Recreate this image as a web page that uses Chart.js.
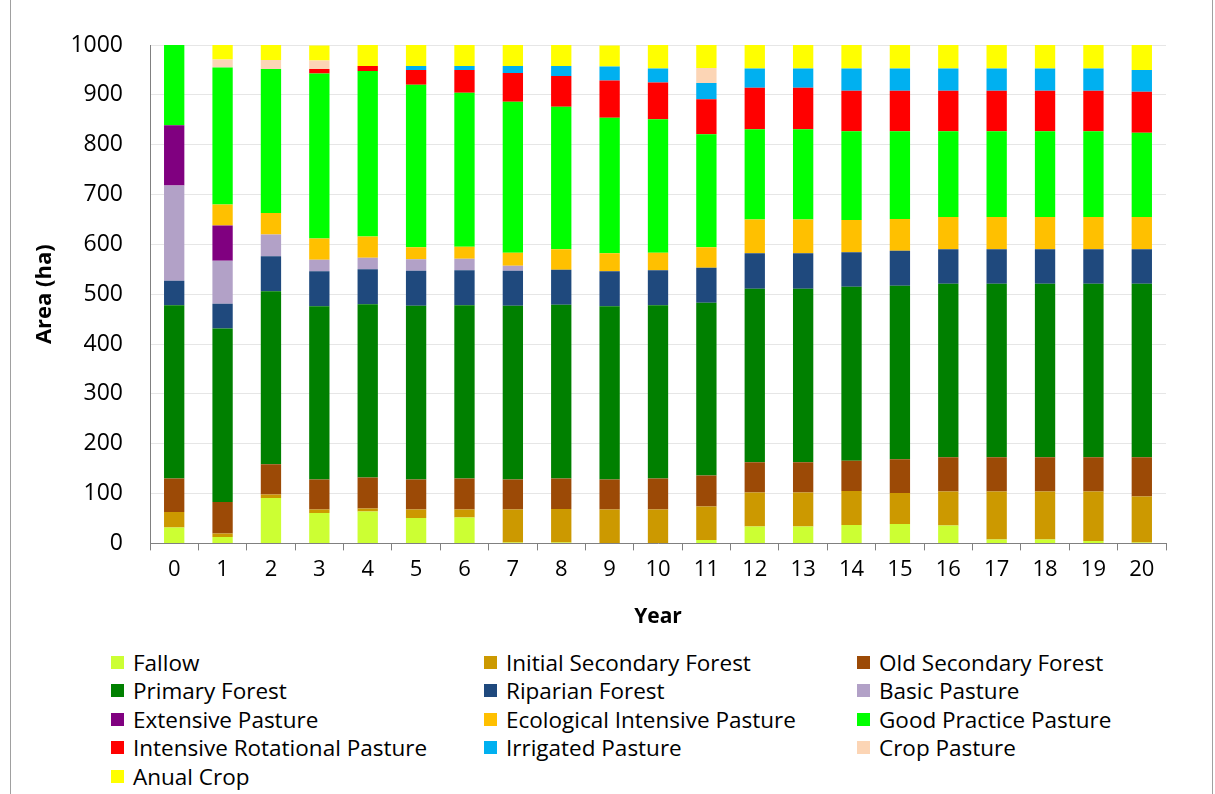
<!DOCTYPE html>
<html>
<head>
<meta charset="utf-8">
<script src="https://cdn.jsdelivr.net/npm/chart.js@4.4.0/dist/chart.umd.min.js"></script>
<style>
  body { margin: 0; background: #fff; font-family: "Open Sans", sans-serif; }
  #wrap { position: relative; width: 1203px; height: 794px; margin-left: 10px; border-left: 1px solid #a0a0a0; border-right: 1px solid #a0a0a0; box-sizing: border-box; }
  #chartBox { position: absolute; left: 0; top: 0; width: 1201px; height: 634px; }
  #legend { position: absolute; left: 100px; top: 648px; display: grid; grid-template-columns: 373px 373px 373px; }
  .item { display: flex; align-items: center; height: 28.5px; font-size: 22.5px; color: #000; white-space: nowrap; }
  .box { width: 13px; height: 13px; margin-right: 9px; }
</style>
</head>
<body>
<div id="wrap">
  <div id="chartBox"><canvas id="myChart"></canvas></div>
  <div id="legend"></div>
</div>
<script>
var years = ["0","1","2","3","4","5","6","7","8","9","10","11","12","13","14","15","16","17","18","19","20"];

var fallow        = [32, 13, 91, 61, 64, 51, 52, 2, 2, 1, 1, 7, 34, 34, 37, 39, 36, 8, 8, 5, 2];
var initSecondary = [31, 7, 7, 7, 6, 17, 16, 66, 67, 67, 67, 67, 68, 68, 68, 62, 68, 96, 96, 99, 92];
var oldSecondary  = [67, 63, 61, 60, 62, 60, 62, 60, 61, 60, 62, 62, 61, 61, 61, 68, 69, 69, 69, 69, 79];
var primary       = [348, 348, 347, 348, 348, 349, 348, 349, 349, 348, 348, 347, 348, 348, 349, 348, 348, 348, 348, 348, 348];
var riparian      = [49, 50, 70, 70, 70, 70, 70, 70, 70, 70, 70, 70, 71, 71, 69, 70, 69, 69, 69, 69, 69];
var basic         = [191, 86, 44, 23, 23, 23, 23, 10, 0, 0, 0, 0, 0, 0, 0, 0, 0, 0, 0, 0, 0];
var extensive     = [121, 71, 0, 0, 0, 0, 0, 0, 0, 0, 0, 0, 0, 0, 0, 0, 0, 0, 0, 0, 0];
var ecoIntensive  = [0, 42, 43, 43, 43, 24, 24, 26, 41, 36, 35, 41, 68, 68, 65, 64, 65, 65, 65, 65, 65];
var goodPractice  = [161, 275, 289, 331, 332, 326, 309, 303, 286, 272, 268, 227, 181, 181, 178, 176, 172, 172, 172, 172, 169];
var intRotational = [0, 0, 0, 9, 10, 30, 46, 58, 62, 75, 74, 70, 83, 83, 81, 81, 81, 81, 81, 81, 82];
var irrigated     = [0, 0, 0, 0, 0, 8, 8, 14, 20, 28, 28, 33, 39, 39, 45, 45, 45, 45, 45, 45, 44];
var cropPasture   = [0, 16, 18, 17, 0, 0, 0, 0, 0, 0, 0, 30, 0, 0, 0, 0, 0, 0, 0, 0, 0];
var anualCrop     = [0, 30, 30, 30, 42, 42, 42, 42, 42, 42, 47, 46, 47, 47, 47, 47, 47, 47, 47, 47, 50];

var yTicks = [0, 100, 200, 300, 400, 500, 600, 700, 800, 900, 1000];

var series = [
  ["Fallow", fallow, "#ccff33"],
  ["Initial Secondary Forest", initSecondary, "#cc9900"],
  ["Old Secondary Forest", oldSecondary, "#9c4a06"],
  ["Primary Forest", primary, "#008000"],
  ["Riparian Forest", riparian, "#1f497d"],
  ["Basic Pasture", basic, "#b2a1c7"],
  ["Extensive Pasture", extensive, "#800080"],
  ["Ecological Intensive Pasture", ecoIntensive, "#ffc000"],
  ["Good Practice Pasture", goodPractice, "#00ff00"],
  ["Intensive Rotational Pasture", intRotational, "#ff0000"],
  ["Irrigated Pasture", irrigated, "#00b0f0"],
  ["Crop Pasture", cropPasture, "#fcd5b5"],
  ["Anual Crop", anualCrop, "#ffff00"]
];

var datasets = series.map(function (s) {
  return { label: s[0], data: s[1], backgroundColor: s[2], borderWidth: 0,
           barPercentage: 0.42, categoryPercentage: 1.0 };
});

var ctx = document.getElementById('myChart').getContext('2d');
var chart = new Chart(ctx, {
  type: 'bar',
  data: { labels: years, datasets: datasets },
  options: {
    responsive: true,
    maintainAspectRatio: false,
    animation: false,
    layout: { padding: { left: 21, right: 46, top: 45, bottom: 0 } },
    plugins: { legend: { display: false }, tooltip: { enabled: false } },
    scales: {
      x: {
        stacked: true,
        grid: { display: true, drawOnChartArea: false, color: '#808080', tickLength: 7 },
        border: { color: '#808080' },
        ticks: { color: '#000', font: { family: 'Open Sans', size: 22 }, padding: 6, maxRotation: 0 },
        title: { display: true, text: 'Year', color: '#000', font: { family: 'Open Sans', size: 21, weight: 'bold' }, padding: { top: 16 } }
      },
      y: {
        stacked: true,
        min: 0, max: 1000,
        afterBuildTicks: function (axis) { axis.ticks = yTicks.map(function (v) { return { value: v }; }); },
        afterFit: function (axis) { axis.width = 118; },
        grid: { color: '#e6e6e6', drawTicks: false },
        border: { color: '#808080' },
        ticks: { color: '#000', font: { family: 'Open Sans', size: 23 }, padding: 27,
                 callback: function (v) { return String(v); } },
        title: { display: true, text: 'Area (ha)', color: '#000', font: { family: 'Open Sans', size: 22, weight: 'bold' }, padding: { top: 0, bottom: 10 } }
      }
    }
  }
});

// legend in 3 columns, same order as the source
var legend = document.getElementById('legend');
series.forEach(function (s) {
  var div = document.createElement('div');
  div.className = 'item';
  div.innerHTML = '<span class="box" style="background:' + s[2] + '"></span>' + s[0];
  legend.appendChild(div);
});
</script>
</body>
</html>
